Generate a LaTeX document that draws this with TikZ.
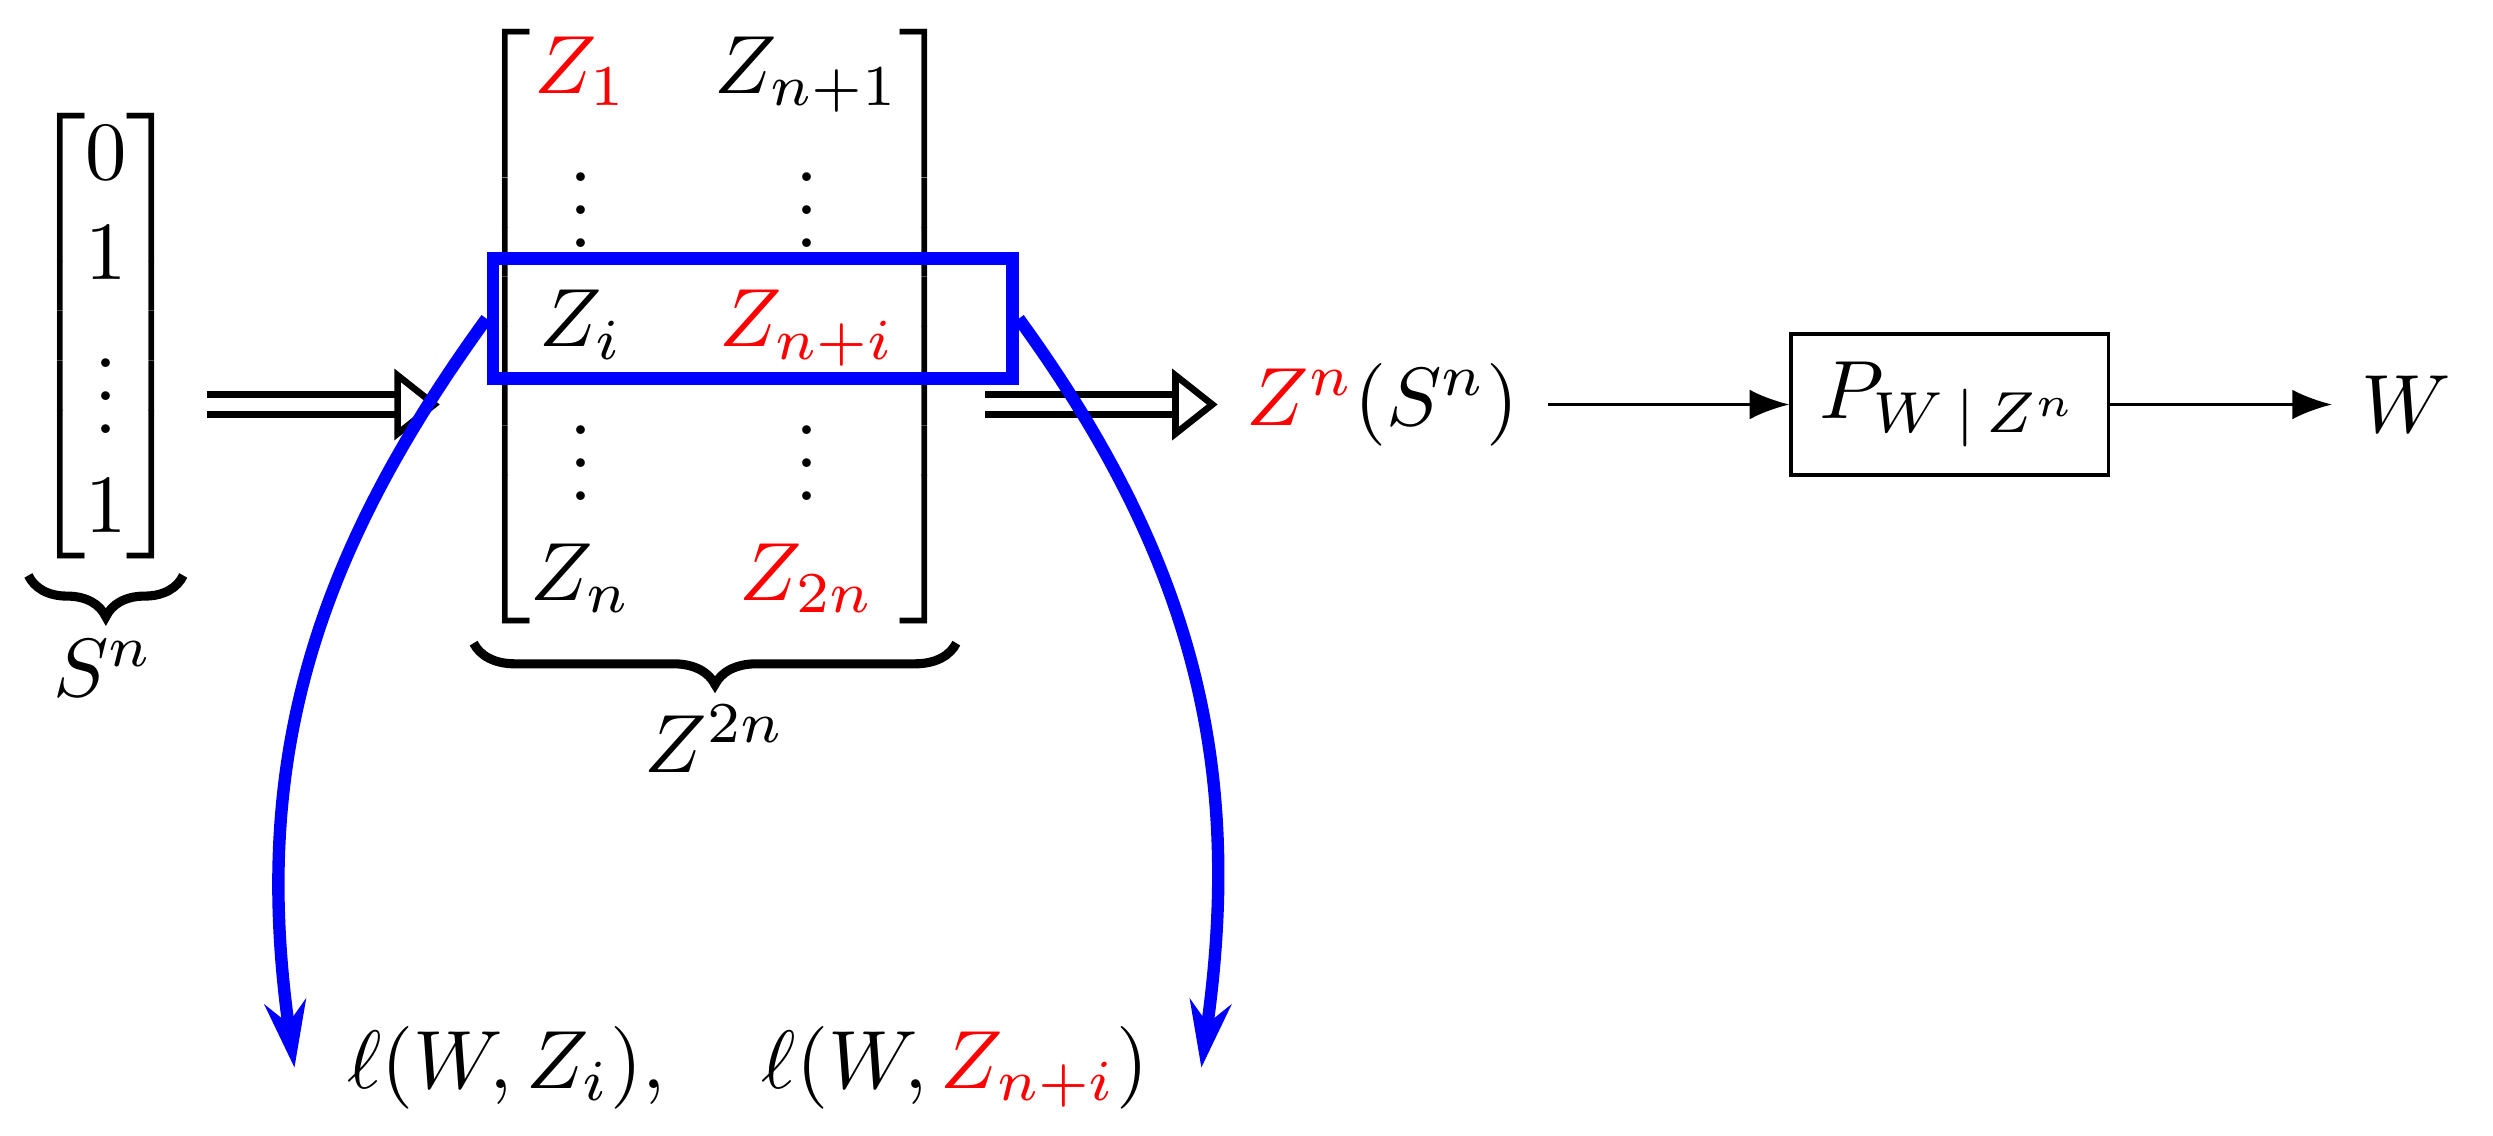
\documentclass[tikz,border=0pt]{standalone}
\usepackage{amsmath}
\usepackage{amssymb}
\usepackage{tikz}
\usetikzlibrary{arrows.meta,decorations.pathreplacing}

\begin{document}
\begin{tikzpicture}[
	dbl/.style={double,double distance=1.6pt,line width=0.8pt,-{Triangle[open,length=5.5pt,width=8.5pt]}},
	brc/.style={decorate,decoration={brace,amplitude=5pt},line width=1.1pt},
	vec/.style={inner xsep=0pt,inner ysep=1.4pt},
	sel/.style={draw=blue,line width=1.5pt,minimum width=2.21cm,minimum height=0.51cm},
	loss/.style={-{Stealth[length=8pt,width=5pt]},blue,line width=1.5pt}
	]
	\useasboundingbox (0,0) rectangle (10.6,-4.83);
	% input vector and the 2n samples
	\node[vec] (svec) at (0.45,-1.43) {$\begin{bmatrix}0\\1\\\vdots\\1\end{bmatrix}$};
	\node[vec] (zmat) at (3.04,-1.39) {$\begin{bmatrix}{\color{red}Z_1} & Z_{n+1}\\ \vdots & \vdots\\ Z_i & {\color{red}Z_{n+i}}\\ \vdots & \vdots\\ Z_n & {\color{red}Z_{2n}}\end{bmatrix}$};
	\draw[brc] (svec.south east) -- (svec.south west);
	\draw[brc] (zmat.south east) -- (zmat.south west);
	\node (snl) at (0.44,-2.84) {$S^n$};
	\node (z2n) at (3.04,-3.14) {$Z^{2n}$};
	\node[sel] (row) at (3.20,-1.355) {};
	% selected samples, channel and output
	\node (zs) at (5.88,-1.72) {${\color{red}Z^n}(S^n)$};
	\node[draw,minimum width=1.35cm,minimum height=0.59cm] (chan) at (8.29,-1.72) {$P_{W\,|\,Z^n}$};
	\node (w) at (10.23,-1.72) {$W$};
	\coordinate (d1s) at (0.88,-1.72);
	\coordinate (d1e) at (1.87,-1.72);
	\coordinate (d2s) at (4.19,-1.72);
	\draw[dbl] (d1s) -- (d1e);
	\draw[dbl] (d2s) -- (zs.west);
	\draw[-Latex] (zs) -- (chan);
	\draw[-Latex] (chan) -- (w);
	% losses
	\node (lossn) at (3.18,-4.54) {$\ell(W,Z_i),\quad \ell(W,{\color{red}Z_{n+i}})$};
	\draw[loss] (row.west) to[out=234,in=98] ([xshift=-1mm]lossn.west);
	\draw[loss] (row.east) to[out=-54,in=82] ([xshift=1mm]lossn.east);
\end{tikzpicture}
\end{document}
